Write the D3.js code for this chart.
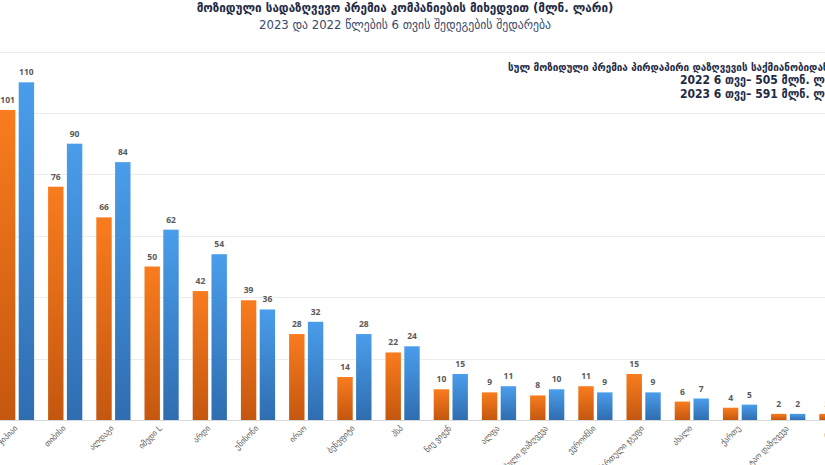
<!DOCTYPE html>
<html><head><meta charset="utf-8">
<script src="https://cdn.jsdelivr.net/npm/d3@7"></script>
<style>body{margin:0;background:#fff}svg{display:block}</style>
</head><body>
<svg id="c" width="825" height="465"></svg>
<script>
const categories = ["ჯიპიაი","თიბისი","ალდაგი","იმედი L","არდი","უნისონი","ირაო","ბენეფიტი","პსპ","ნიუ ვიჟენ","ალფა","ევროპული დაზღვევა","ევროინსი","ქართული ჯგუფი","ახალი","ქართუ","ტაო დაზღვევა","ტაო"];
const series = ["2022","2023"];
const values2022 = [101,76,66,50,42,39,28,14,22,10,9,8,11,15,6,4,2,2];
const values2023 = [110,90,84,62,54,36,32,28,24,15,11,10,9,9,7,5,2,2];
const yTicks = [0,20,40,60,80,100,120];
const titleText = "მოზიდული სადაზღვევო პრემია  კომპანიების მიხედვით (მლნ. ლარი)";
const subtitleText = "2023  და 2022 წლების 6 თვის შედეგების შედარება";
const noteLines = ["სულ მოზიდული პრემია პირდაპირი დაზღვევის საქმიანობიდან:","2022 6 თვე– 505 მლნ. ლარი","2023 6 თვე– 591 მლნ. ლარი"];

const svg = d3.select("#c");
svg.append("rect").attr("width",825).attr("height",465).attr("fill","#fff");
const defs = svg.append("defs");
const grads = {"2022":["#F97C1E","#C4570F"],"2023":["#4A9DEB","#2F6DB0"]};
Object.entries(grads).forEach(([k,c])=>{
  const g = defs.append("linearGradient").attr("id","g"+k).attr("x1",0).attr("y1",0).attr("x2",0).attr("y2",1);
  g.append("stop").attr("offset","0%").attr("stop-color",c[0]);
  g.append("stop").attr("offset","100%").attr("stop-color",c[1]);
});

const step = 48.2;
const x0 = d3.scaleBand().domain(categories).range([-7.1, -7.1 + step*categories.length]).padding(0);
const x1 = d3.scaleBand().domain(series).range([7, 41.2]).paddingInner(0.18);
const y = d3.scaleLinear().domain([0,120]).range([420, 51.6]);

// gridlines
svg.append("g").selectAll("line").data(yTicks).join("line")
  .attr("x1",0).attr("x2",825)
  .attr("y1",d=>Math.round(y(d))+0.5).attr("y2",d=>Math.round(y(d))+0.5)
  .attr("stroke",d=>d===0?"#d9d9d9":"#ececec").attr("stroke-width",1);

const data = categories.map((c,i)=>({c, v:{"2022":values2022[i],"2023":values2023[i]}}));
const groups = svg.append("g").selectAll("g").data(data).join("g")
  .attr("transform",d=>`translate(${x0(d.c)},0)`);
groups.selectAll("rect").data(d=>series.map(s=>({s,v:d.v[s]}))).join("rect")
  .attr("x",d=>x1(d.s)).attr("width",x1.bandwidth())
  .attr("y",d=>y(d.v)).attr("height",d=>y(0)-y(d.v))
  .attr("fill",d=>`url(#g${d.s})`);
groups.selectAll("text").data(d=>series.map(s=>({s,v:d.v[s]}))).join("text")
  .attr("x",d=>x1(d.s)+x1.bandwidth()/2).attr("y",d=>y(d.v)-7)
  .attr("text-anchor","middle").attr("font-family","Open Sans, sans-serif")
  .attr("font-size",8.5).attr("font-weight","bold").attr("fill","#595959")
  .text(d=>d.v);

// x labels
svg.append("g").selectAll("text").data(categories).join("text")
  .attr("transform",d=>`translate(${x0(d)+x0.bandwidth()/2+1},${429}) rotate(-45)`)
  .attr("text-anchor","end").attr("font-family","DejaVu Sans Condensed, DejaVu Sans")
  .attr("font-size",8.5).attr("fill","#595959").text(d=>d);

// title
svg.append("text").attr("x",405).attr("y",12).attr("text-anchor","middle")
  .attr("font-family","DejaVu Sans Condensed, DejaVu Sans").attr("font-weight","bold")
  .attr("font-size",13).attr("fill","#1F2A44").text(titleText);
svg.append("text").attr("x",405).attr("y",29).attr("text-anchor","middle")
  .attr("font-family","DejaVu Sans Condensed, DejaVu Sans")
  .attr("font-size",13).attr("fill","#3A4A6B").text(subtitleText);

// note
const noteX = [508,680,680], noteY = [71,84,98], noteSize = [11,12,12];
svg.append("g").selectAll("text").data(noteLines).join("text")
  .attr("x",(d,i)=>noteX[i]).attr("y",(d,i)=>noteY[i])
  .attr("font-family","DejaVu Sans Condensed, DejaVu Sans").attr("font-weight","bold")
  .attr("font-size",(d,i)=>noteSize[i]).attr("fill","#1F2A44").text(d=>d);
</script>
</body></html>
